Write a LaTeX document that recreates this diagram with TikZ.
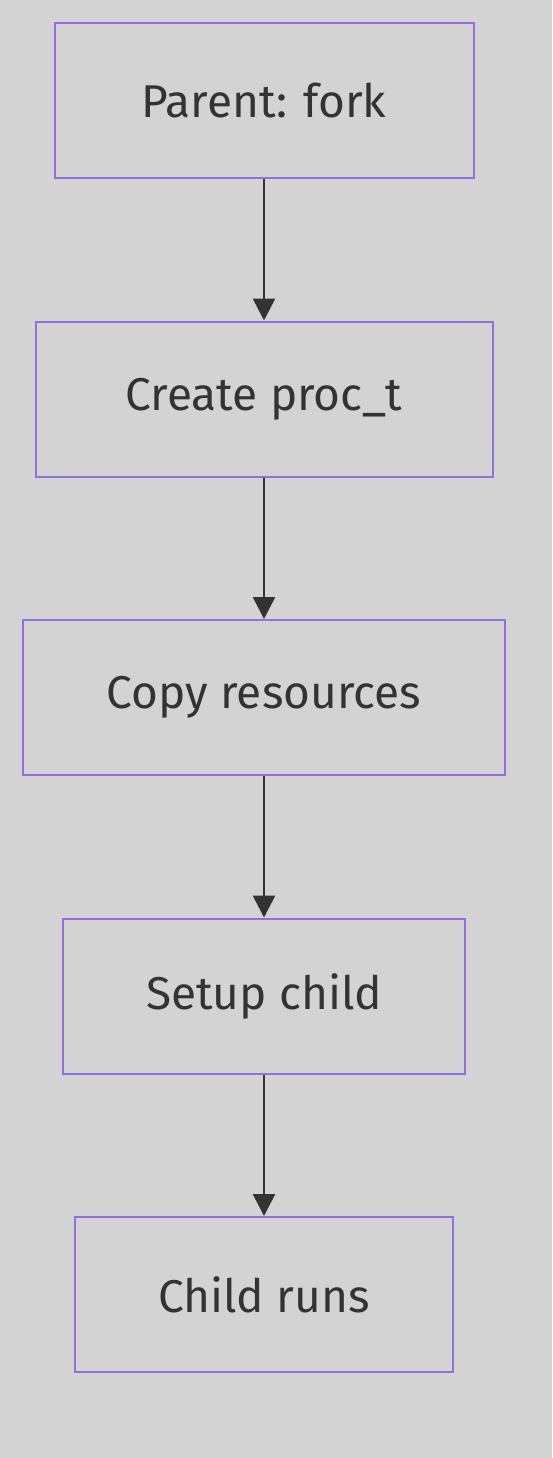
\documentclass[tikz,border=0pt]{standalone}
\usepackage{fontspec}
\setmainfont{Fira Sans}
\usetikzlibrary{arrows.meta}
\definecolor{bg}{HTML}{D3D3D3}
\definecolor{boxline}{HTML}{9370DB}
\definecolor{ink}{HTML}{333333}
\tikzset{
  flowbox/.style={draw=boxline, line width=2pt, fill=bg, inner sep=0pt, text=ink,
    font=\fontsize{46}{52}\selectfont, minimum height=155pt},
  flowarrow/.style={draw=ink, line width=2.6pt, -{Triangle[length=22pt,width=22pt]}}
}
\begin{document}
\begin{tikzpicture}[x=1pt,y=-1pt]
\fill[bg] (0,0) rectangle (552,1458);
\useasboundingbox (0,0) rectangle (552,1458);
\node[flowbox, minimum width=419pt] (a) at (264,100.5) {Parent: fork};
\node[flowbox, minimum width=457pt] (b) at (264,399) {Create proc\_t};
\node[flowbox, minimum width=482pt] (c) at (264,697.5) {Copy resources};
\node[flowbox, minimum width=402pt] (d) at (264,996) {Setup child};
\node[flowbox, minimum width=378pt] (e) at (264,1294.5) {Child runs};
\draw[flowarrow] (a) -- (b);
\draw[flowarrow] (b) -- (c);
\draw[flowarrow] (c) -- (d);
\draw[flowarrow] (d) -- (e);
\end{tikzpicture}
\end{document}
